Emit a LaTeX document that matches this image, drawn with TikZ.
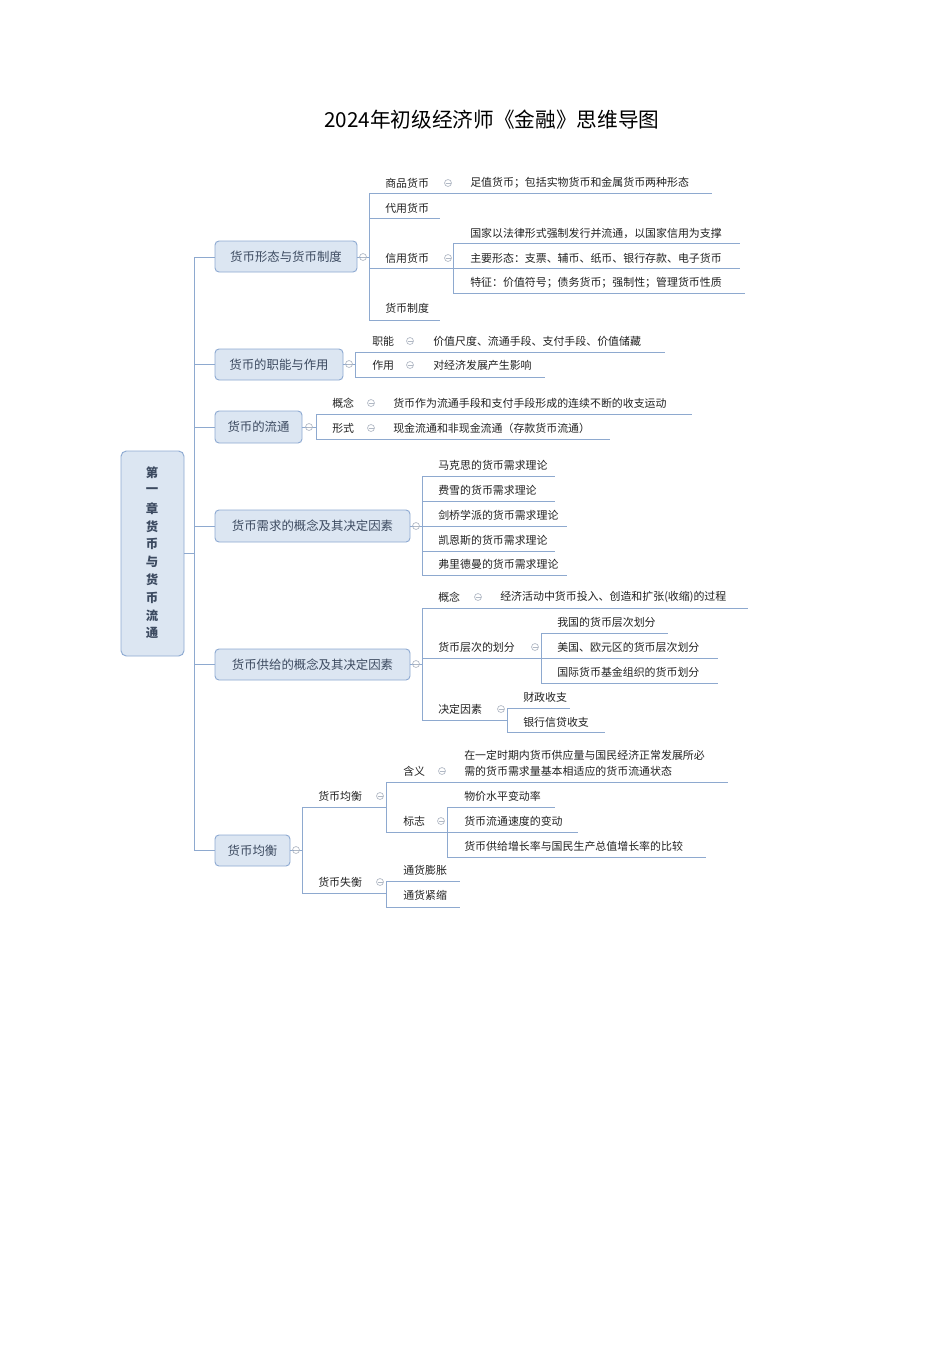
\documentclass[tikz,border=0pt]{standalone}
\usepackage{fontspec}
\setmainfont{Noto Sans CJK SC}
\begin{document}
\begin{tikzpicture}[x=0.75pt,y=-0.75pt,
  ln/.style={draw=#1,line width=0.6pt},
  ln/.default={lc},
  lt/.style={anchor=west,inner sep=0pt,font=\fontsize{8.2}{10}\selectfont,text=tx},
  bx/.style={draw=bd,fill=bf,rounded corners=3pt,line width=0.7pt,font=\fontsize{9.3}{11}\selectfont,text=tx2,inner sep=0pt,anchor=north west}]
\definecolor{lc}{HTML}{8EA9CF}
\definecolor{bd}{HTML}{8EAAD2}
\definecolor{bf}{HTML}{DCE6F2}
\definecolor{tx}{HTML}{222222}
\definecolor{tx2}{HTML}{3C4A60}
\definecolor{cg}{HTML}{B0B8C4}
\newcommand\cm[2]{\draw[cg,line width=0.5pt] (#1,#2) circle[radius=2.6pt]; \draw[cg,line width=0.5pt] (#1-2.5,#2)--(#1+2.5,#2);}
\newcommand\lf[3]{\node[lt] at (#1,#2) {#3};}
\newcommand\ul[3]{\draw[ln] (#1,#2)--(#3,#2);}
\newcommand\br[3]{\draw[ln] (#1,#2)--(#1,#3);}
\newcommand\bxx[6]{\draw[bx] (#1,#2) rectangle (#3,#4); \node[font=\fontsize{9.3}{11}\selectfont,text=tx2] (#6) at ({(#1+#3)/2},{(#2+#4)/2}) {#5};}
\useasboundingbox (0,0) rectangle (950,1345);
\fill[white] (0,0) rectangle (950,1345);
\node[font=\fontsize{15.5}{18}\selectfont,text=black] (title) at (492,120) {2024年初级经济师《金融》思维导图};
% root
\draw[draw=bd,fill=bf,rounded corners=4pt,line width=0.7pt] (121,451) rectangle (184,656);
\foreach \c [count=\i from 0] in {第,一,章,货,币,与,货,币,流,通}
  \node[font=\bfseries\fontsize{9.3}{11}\selectfont,text=tx2] at (152,{473+\i*17.8}) {\c};
\coordinate (rootR) at (184,553);
\draw[ln] (rootR)--(194,553);
\br{194}{257}{850}
\foreach \y/\r in {257/215,364/215,427/215,526/215,664/215,850/215} \draw[ln] (194,\y)--(\r,\y);
% branch boxes
\bxx{215}{241}{357}{272}{货币形态与货币制度}{b1}
\bxx{215}{349}{343}{380}{货币的职能与作用}{b2}
\bxx{215}{411}{302}{443}{货币的流通}{b3}
\bxx{215}{510}{410}{542}{货币需求的概念及其决定因素}{b4}
\bxx{215}{649}{410}{680}{货币供给的概念及其决定因素}{b5}
\bxx{215}{835}{290}{866}{货币均衡}{b6}
% B1
\draw[ln] (357,257)--(369,257); \cm{363}{257}
\br{369}{193}{320}
\lf{385}{183}{商品货币} \cm{448}{183} \lf{470}{183}{足值货币；包括实物货币和金属货币两种形态} \ul{369}{193}{712}
\lf{385}{208}{代用货币} \ul{369}{218}{440}
\lf{385}{258}{信用货币} \cm{448}{258} \ul{369}{268}{453}
\lf{385}{308}{货币制度} \ul{369}{320}{440}
\br{453}{243}{293}
\lf{470}{233}{国家以法律形式强制发行并流通，以国家信用为支撑} \ul{453}{243}{740}
\lf{470}{258}{主要形态：支票、辅币、纸币、银行存款、电子货币} \ul{453}{268}{740}
\lf{470}{283}{特征：价值符号；债务货币；强制性；管理货币性质} \ul{453}{293}{745}
% B2
\draw[ln] (343,364)--(355,364); \cm{349}{364}
\br{355}{352}{377}
\lf{372}{341}{职能} \cm{410}{341} \lf{433}{341}{价值尺度、流通手段、支付手段、价值储藏} \ul{355}{352}{665}
\lf{372}{365}{作用} \cm{410}{365} \lf{433}{365}{对经济发展产生影响} \ul{355}{377}{545}
% B3
\draw[ln] (302,427)--(316,427); \cm{309}{427}
\br{316}{414}{439}
\lf{332}{403}{概念} \cm{371}{403} \lf{393}{403}{货币作为流通手段和支付手段形成的连续不断的收支运动} \ul{316}{414}{692}
\lf{332}{428}{形式} \cm{371}{428} \lf{393}{428}{现金流通和非现金流通（存款货币流通）} \ul{316}{439}{610}
% B4
\draw[ln] (410,526)--(422,526); \cm{416}{526}
\br{422}{476}{575}
\lf{438}{465}{马克思的货币需求理论} \ul{422}{476}{555}
\lf{438}{490}{费雪的货币需求理论} \ul{422}{501}{555}
\lf{438}{515}{剑桥学派的货币需求理论} \ul{422}{526}{567}
\lf{438}{540}{凯恩斯的货币需求理论} \ul{422}{551}{555}
\lf{438}{564}{弗里德曼的货币需求理论} \ul{422}{575}{567}
% B5
\draw[ln] (410,664)--(422,664); \cm{416}{664}
\br{422}{608}{720}
\lf{438}{597}{概念} \cm{478}{597} \lf{500}{597}{经济活动中货币投入、创造和扩张(收缩)的过程} \ul{422}{608}{748}
\lf{438}{647}{货币层次的划分} \cm{535}{647} \ul{422}{658}{541}
\br{541}{633}{683}
\lf{557}{622}{我国的货币层次划分} \ul{541}{633}{668}
\lf{557}{647}{美国、欧元区的货币层次划分} \ul{541}{658}{718}
\lf{557}{672}{国际货币基金组织的货币划分} \ul{541}{683}{718}
\lf{438}{709}{决定因素} \cm{501}{709} \ul{422}{720}{507}
\br{507}{708}{732}
\lf{523}{697}{财政收支} \ul{507}{708}{570}
\lf{523}{722}{银行信贷收支} \ul{507}{732}{605}
% B6
\draw[ln] (290,850)--(302,850); \cm{296}{850}
\br{302}{807}{893}
\lf{318}{796}{货币均衡} \cm{380}{796} \ul{302}{807}{386}
\br{386}{782}{832}
\lf{403}{771}{含义} \cm{442}{771}
\lf{464}{755}{在一定时期内货币供应量与国民经济正常发展所必}
\lf{464}{771}{需的货币需求量基本相适应的货币流通状态} \ul{386}{782}{728}
\lf{403}{821}{标志} \cm{441}{821} \ul{386}{832}{447}
\br{447}{807}{857}
\lf{464}{796}{物价水平变动率} \ul{447}{807}{555}
\lf{464}{821}{货币流通速度的变动} \ul{447}{832}{578}
\lf{464}{846}{货币供给增长率与国民生产总值增长率的比较} \ul{447}{857}{706}
\lf{318}{882}{货币失衡} \cm{380}{882} \ul{302}{893}{386}
\br{386}{881}{907}
\lf{403}{870}{通货膨胀} \ul{386}{881}{460}
\lf{403}{895}{通货紧缩} \ul{386}{907}{460}
\end{tikzpicture}
\end{document}
